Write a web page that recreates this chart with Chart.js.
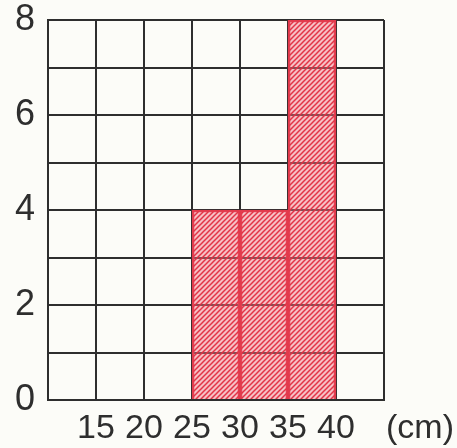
<!DOCTYPE html>
<html>
<head>
<meta charset="utf-8">
<script src="https://cdn.jsdelivr.net/npm/chart.js@4"></script>
<style>
	html, body { margin: 0; padding: 0; background: #fcfcf8; }
	#wrap { width: 457px; height: 448px; }
</style>
</head>
<body>
<div id="wrap"><canvas id="histChart"></canvas></div>
<script>
// class marks (cm) and their counts
var classMids = [27.5, 32.5, 37.5];
var counts = [4, 4, 8];
var xTickLabels = ['15', '20', '25', '30', '35', '40'];
var yTickLabels = ['0', '2', '4', '6', '8'];
var unitLabel = '(cm)';

var ink = '#2e2e2e';
var red = '#e23a4c';

// hand-drawn looking hatch
function makeHatch() {
	var c = document.createElement('canvas');
	c.width = 5;
	c.height = 5;
	var g = c.getContext('2d');
	g.fillStyle = 'rgba(240, 120, 135, 0.45)';
	g.fillRect(0, 0, 5, 5);
	g.strokeStyle = 'rgba(226, 45, 65, 0.95)';
	g.lineWidth = 1.5;
	g.beginPath();
	g.moveTo(0, 5); g.lineTo(5, 0);
	g.moveTo(-2.5, 2.5); g.lineTo(2.5, -2.5);
	g.moveTo(2.5, 7.5); g.lineTo(7.5, 2.5);
	g.stroke();
	return g.createPattern(c, 'repeat');
}

var unitPlugin = {
	id: 'unitLabel',
	afterDraw: function(chart) {
		var ctx = chart.ctx;
		var x = chart.scales.x;
		ctx.save();
		ctx.font = '34px "Liberation Sans"';
		ctx.fillStyle = ink;
		ctx.textAlign = 'center';
		ctx.textBaseline = 'middle';
		ctx.fillText(unitLabel, x.getPixelForValue(45) + 36, chart.chartArea.bottom + 29);
		ctx.restore();
	}
};

var data = {
	datasets: [{
		data: classMids.map(function(m, i) { return { x: m, y: counts[i] }; }),
		backgroundColor: makeHatch(),
		borderColor: red,
		borderWidth: 2,
		borderSkipped: 'bottom',
		barPercentage: 1,
		categoryPercentage: 1
	}]
};

var options = {
	responsive: true,
	maintainAspectRatio: false,
	animation: false,
	layout: { padding: { top: 20, right: 73, left: 0, bottom: 0 } },
	plugins: {
		legend: { display: false },
		tooltip: { enabled: false }
	},
	scales: {
		x: {
			type: 'linear',
			min: 10,
			max: 45,
			offset: false,
			afterFit: function(s) {
				s.height = 48;
				s.paddingLeft = 0;
				s.paddingRight = 0;
			},
			ticks: {
				stepSize: 5,
				padding: 8,
				color: ink,
				font: { family: 'Liberation Sans', size: 34 },
				maxRotation: 0,
				autoSkip: false,
				callback: function(v) {
					return xTickLabels.indexOf(String(v)) >= 0 ? String(v) : '';
				}
			},
			grid: { color: ink, lineWidth: 2, drawTicks: false, offset: false },
			border: { color: ink, width: 2 }
		},
		y: {
			min: 0,
			max: 8,
			afterFit: function(s) {
				s.width = 48;
				s.paddingTop = 0;
				s.paddingBottom = 0;
			},
			ticks: {
				stepSize: 1,
				padding: 13,
				color: ink,
				font: { family: 'Liberation Sans', size: 36 },
				autoSkip: false,
				callback: function(v) {
					return yTickLabels.indexOf(String(v)) >= 0 ? String(v) : '';
				}
			},
			grid: { color: ink, lineWidth: 2, drawTicks: false },
			border: { color: ink, width: 2 }
		}
	}
};

var chart = new Chart(document.getElementById('histChart'), {
	type: 'bar',
	data: data,
	options: options,
	plugins: [unitPlugin]
});
</script>
</body>
</html>
